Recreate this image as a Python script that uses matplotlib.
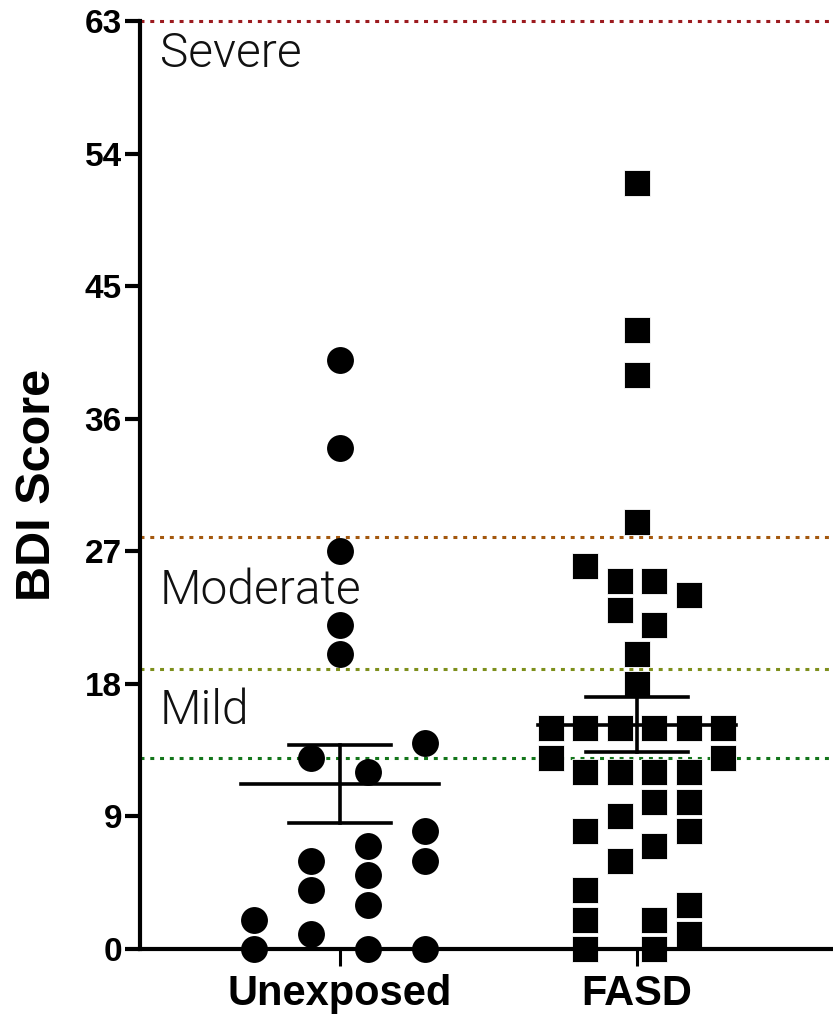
import numpy as np
import matplotlib
matplotlib.use("Agg")
import matplotlib.pyplot as plt
from matplotlib.transforms import blended_transform_factory

# data
groups = ["Unexposed", "FASD"]

unexposed = [40, 34, 27, 22, 20, 14, 13, 12, 8, 7, 6, 6, 5, 4, 3, 2, 1, 0, 0, 0]
# horizontal slot of each point (Prism scatter spread)
unexposed_slot = [0, 0, 0, 0, 0, 1.5, -0.5, 0.5, 1.5, 0.5, -0.5, 1.5, 0.5, -0.5,
                  0.5, -1.5, -0.5, -1.5, 0.5, 1.5]

fasd = [52, 42, 39, 29, 26, 25, 23, 25, 24, 22, 20, 18,
        15, 15, 15, 15, 15, 15, 13, 13, 12, 12, 12, 12,
        10, 10, 9, 8, 8, 7, 6, 4, 3, 2, 2, 1, 0, 0]
fasd_slot = [0, 0, 0, 0, -1.5, -0.5, -0.5, 0.5, 1.5, 0.5, 0, 0,
             -2.5, -1.5, -0.5, 0.5, 1.5, 2.5, -2.5, 2.5, -1.5, -0.5, 0.5, 1.5,
             0.5, 1.5, -0.5, -1.5, 1.5, 0.5, -0.5, -1.5, 1.5, -1.5, 0.5, 1.5, -1.5, 0.5]

yticks = [0, 9, 18, 27, 36, 45, 54, 63]
cutoffs = [13, 19, 28, 63]
cutoff_colors = ["#13751a", "#7d8f1c", "#a3580e", "#9c1a1e"]
severity = ["Mild", "Moderate", "Severe"]
severity_y = [15.3, 23.4, 59.9]

W, H = 833, 1014
fig = plt.figure(figsize=(W / 100, H / 100), dpi=100)
ax = fig.add_axes([140 / W, 1 - 949 / H, 693 / W, 928 / H])

ax.set_xlim(-0.673, 1.66)
ax.set_ylim(0, 63)

# cutoff lines
for c, col in zip(cutoffs, cutoff_colors):
    ax.axhline(c, color=col, lw=2.2, ls=(0, (1.3, 1.9)), zorder=1, clip_on=False)

lab_tr = blended_transform_factory(ax.transAxes, ax.transData)
for s, yy in zip(severity, severity_y):
    ax.text(0.029, yy, s, transform=lab_tr, fontsize=34.5, family="Roboto",
            fontweight=300, va="baseline", ha="left", color="#111111")

# scatter points
x_u = 0 + np.array(unexposed_slot) * 0.192
x_f = 1 + np.array(fasd_slot) * 0.116
ax.scatter(x_u, unexposed, s=375, marker="o", color="black", lw=0,
           zorder=3, clip_on=False)
ax.scatter(x_f, fasd, s=375, marker="s", color="black", edgecolor="white",
           lw=0.6, zorder=3, clip_on=False)

# mean +/- SEM
for i, vals in enumerate([unexposed, fasd]):
    v = np.array(vals, dtype=float)
    m = v.mean()
    sem = v.std(ddof=1) / np.sqrt(len(v))
    ax.plot([i - 0.333, i + 0.333], [m, m], color="black", lw=2.6, zorder=4)
    ax.plot([i - 0.172, i + 0.172], [m + sem, m + sem], color="black", lw=2.6, zorder=4)
    ax.plot([i - 0.172, i + 0.172], [m - sem, m - sem], color="black", lw=2.6, zorder=4)
    ax.plot([i, i], [m - sem, m + sem], color="black", lw=2.6, zorder=4)

for side in ["top", "right"]:
    ax.spines[side].set_visible(False)
for side in ["left", "bottom"]:
    ax.spines[side].set_linewidth(3)
    ax.spines[side].set_zorder(5)

ax.set_yticks(yticks)
ax.set_yticklabels([str(t) for t in yticks], fontsize=24, fontweight="bold",
                   family="Liberation Sans")
ax.tick_params(axis="y", length=11, width=3, pad=2)
ax.set_xticks([0, 1])
ax.set_xticklabels(groups, fontsize=30, fontweight="bold", family="Liberation Sans")
ax.tick_params(axis="x", length=12, width=2.2, pad=6)

ax.set_ylabel("BDI Score", fontsize=35, fontweight="bold", family="Liberation Sans")
ax.yaxis.set_label_coords(-0.148, 0.5)
ax.yaxis.label.set_va("center")

fig.savefig("out.png", dpi=100)
